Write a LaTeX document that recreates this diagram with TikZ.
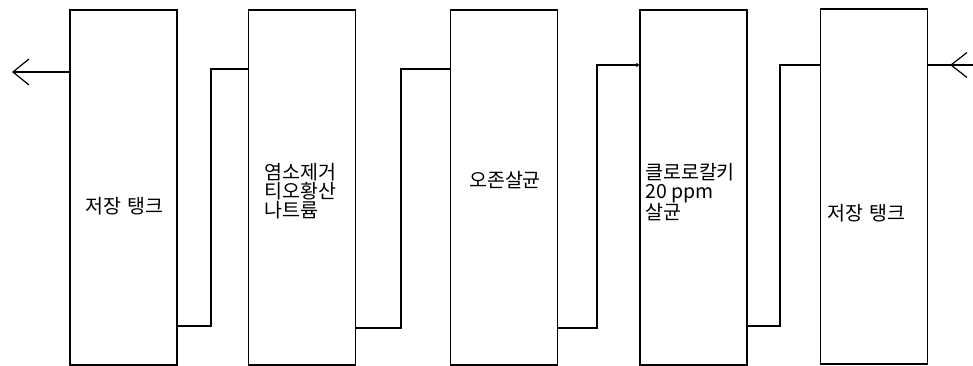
\documentclass[tikz,border=0pt]{standalone}
\usepackage{fontspec}
\setmainfont{Noto Sans CJK KR}
\usetikzlibrary{arrows.meta,decorations.markings}
\begin{document}
\begin{tikzpicture}[x=1pt,y=-1pt,
  tank/.style={draw,line width=1.2pt,minimum width=107pt,minimum height=355pt,inner sep=0pt},
  lbl/.style={font=\fontsize{19.5}{19}\selectfont,inner sep=0pt,align=left},
  pipe/.style={line width=1.2pt},
  barb/.style={-{Straight Barb[length=16pt,width=26pt,line width=1.2pt]}}
]
\useasboundingbox (0,0) rectangle (973,366);
\node[tank] (b1) at (123.5,187.5) {};
\node[tank] (b2) at (302,187.5) {};
\node[tank] (b3) at (504,187.5) {};
\node[tank] (b4) at (693.5,187.5) {};
\node[tank] (b5) at (874,186.5) {};
\node[lbl] (t1) at (124.5,206) {저장\hspace{7pt}탱크};
\node[lbl,anchor=north west] (t2) at (264,163) {염소제거\\티오황산\\나트륨};
\node[lbl] (t3) at (505,180) {오존살균};
\node[lbl,anchor=north west] (t4) at (645,163) {클로로칼키\\20 ppm\\살균};
\node[lbl] (t5) at (866.5,213) {저장\hspace{7pt}탱크};
\coordinate (outL) at (12,72);
\coordinate (inR) at (973,65);
\draw[pipe,barb] (b1.west |- outL) -- (outL);
\draw[pipe] (b1.east |- {0,326}) -| (211,69) -- (b2.west |- {0,69});
\draw[pipe] (b2.east |- {0,328}) -| (401,69) -- (b3.west |- {0,69});
\draw[pipe,-{Straight Barb[length=2pt,width=3pt]}] (b3.east |- {0,328}) -| (597,65) -- (b4.west |- {0,65});
\draw[pipe] (b4.east |- {0,326}) -| (780,65) -- (b5.west |- {0,65});
\draw[pipe,postaction={decorate},decoration={markings,mark=at position 23pt with {\arrow{Straight Barb[length=16pt,width=25pt,line width=1.2pt]}}}] (inR) -- (b5.east |- inR);
\end{tikzpicture}
\end{document}
